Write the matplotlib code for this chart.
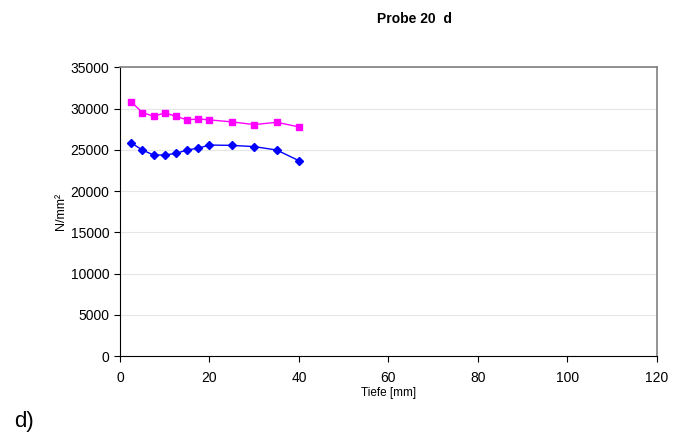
import matplotlib
matplotlib.use("Agg")
import matplotlib.pyplot as plt

plt.rcParams['font.family'] = ['Liberation Sans', 'DejaVu Sans']

tiefe = [2.5, 5, 7.5, 10, 12.5, 15, 17.5, 20, 25, 30, 35, 40]
pink = [30830, 29530, 29080, 29490, 29080, 28640, 28760, 28640, 28400, 28070, 28350, 27790]
blue = [25840, 24990, 24380, 24380, 24580, 24990, 25220, 25590, 25550, 25400, 24990, 23690]

xticks = [0, 20, 40, 60, 80, 100, 120]
yticks = list(range(0, 35001, 5000))

fig = plt.figure(figsize=(6.85, 4.41), dpi=100)
ax = fig.add_axes([0.1752, 0.1927, 0.7838, 0.6543])

ax.plot(tiefe, pink, color='#ff00ff', marker='s', markersize=5, linewidth=1)
ax.plot(tiefe, blue, color='#0000ff', marker='D', markersize=4.5, linewidth=1)

ax.set_xlim(0, 120)
ax.set_ylim(0, 35000)
ax.set_xticks(xticks)
ax.set_yticks(yticks)
ax.yaxis.grid(True, color='#e6e6e6', linewidth=0.8)
ax.set_axisbelow(True)

for s in ['left', 'bottom']:
    ax.spines[s].set_color('black')
for s in ['top', 'right']:
    ax.spines[s].set_color('#808080')
    ax.spines[s].set_linewidth(1.2)

ax.tick_params(direction='out', length=4, labelsize=10)
ax.tick_params(axis='x', pad=7)
ax.set_xlabel('Tiefe [mm]', fontsize=8.5, labelpad=1)
ax.set_ylabel('N/mm²', fontsize=9, labelpad=3)

fig.text(0.605, 0.957, 'Probe 20  d', fontsize=10, fontweight='bold', ha='center', va='center')
fig.text(0.02, 0.045, 'd)', fontsize=16, ha='left', va='center')

fig.savefig('out.png', dpi=100)
